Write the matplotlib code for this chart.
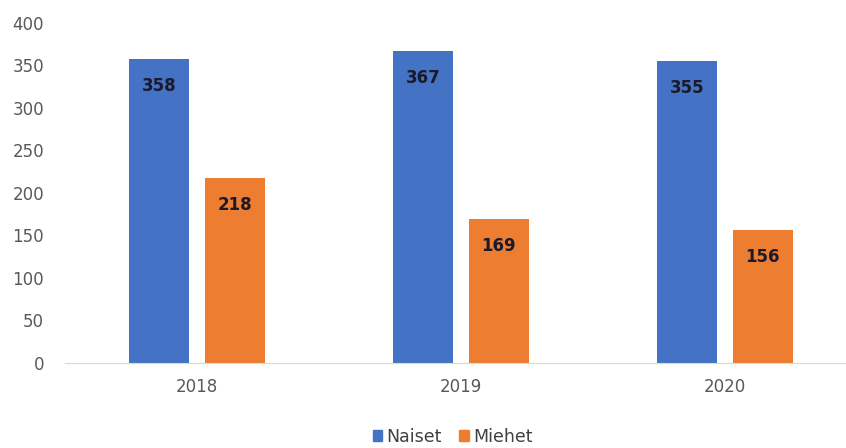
import numpy as np
import matplotlib.pyplot as plt
from matplotlib.patches import Patch

years = ['2018', '2019', '2020']
naiset = [358, 367, 355]
miehet = [218, 169, 156]

fig = plt.figure(figsize=(8.46, 4.48), dpi=100)
ax = fig.add_axes([0.0768, 0.190, 0.9232, 0.759])

x = np.arange(len(years))
w = 0.227
b1 = ax.bar(x - 0.143, naiset, w, color='#4472C4', label='Naiset')
b2 = ax.bar(x + 0.143, miehet, w, color='#ED7D31', label='Miehet')

# value labels inside the top of each bar
for bars in (b1, b2):
    for r in bars:
        ax.annotate(str(int(r.get_height())), (r.get_x() + r.get_width() / 2, r.get_height()),
                    xytext=(0, -27), textcoords='offset pixels',
                    ha='center', va='center', fontsize=12, fontweight='semibold', color='#1a1a2a')

ax.set_xlim(-0.5, -0.5 + 781 / 264)
ax.set_ylim(0, 400)
ax.set_yticks(range(0, 401, 50))
ax.set_xticks(x)
ax.set_xticklabels(years)
ax.tick_params(length=0, labelsize=12, colors='#595959')
ax.tick_params(axis='y', pad=15)
ax.tick_params(axis='x', pad=11)
for s in ['top', 'right', 'left']:
    ax.spines[s].set_visible(False)
ax.spines['bottom'].set_color('#d9d9d9')

handles = [Patch(color='#4472C4'), Patch(color='#ED7D31')]
fig.legend(handles, ['Naiset', 'Miehet'], loc='center', bbox_to_anchor=(0.535, 0.025),
           ncol=2, frameon=False, fontsize=12.5, handlelength=0.55, handleheight=0.55,
           handletextpad=0.25, columnspacing=1.0, labelcolor='#404040')

fig.savefig('out.png', dpi=100)
